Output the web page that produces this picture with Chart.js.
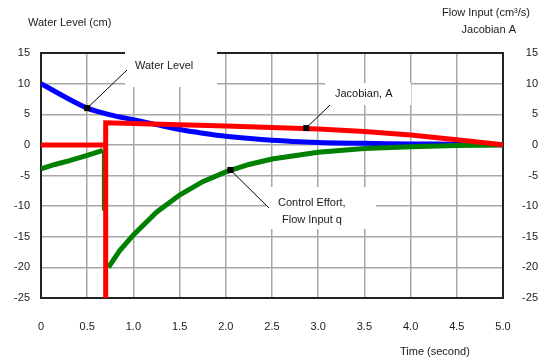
<!DOCTYPE html>
<html>
<head>
<meta charset="utf-8">
<script src="https://cdn.jsdelivr.net/npm/chart.js@4/dist/chart.umd.min.js"></script>
<style>
  html, body { margin: 0; padding: 0; background: #fff; }
  #wrap { width: 544px; height: 361px; }
</style>
</head>
<body>
<div id="wrap"><canvas id="grafica" width="544" height="361"></canvas></div>
<script>
// values
const levelTime  = [0, 0.25, 0.5, 0.75, 1.0, 1.25, 1.5, 1.75, 2.0, 2.5, 3.0, 3.5, 4.0, 4.5, 5.0];
const waterLevel = [10, 7.9, 6.0, 4.9, 4.1, 3.3, 2.5, 1.9, 1.4, 0.75, 0.4, 0.25, 0.15, 0.1, 0];

const jacobTime  = [0, 0.7, 0.7, 0.7, 1.0, 1.5, 2.0, 2.5, 3.0, 3.5, 4.0, 4.5, 5.0];
const jacobianA  = [0, 0, -25, 3.6, 3.5, 3.3, 3.1, 2.85, 2.6, 2.2, 1.6, 0.85, 0];

const flowTime   = [0, 0.15, 0.3, 0.5, 0.67, 0.67, 0.7, 0.73, 0.85, 1.0, 1.25, 1.5, 1.75, 2.0, 2.25, 2.5, 3.0, 3.5, 4.0, 4.5, 5.0];
const flowInput  = [-3.9, -3.2, -2.6, -1.7, -0.9, -10.7, null, -20, -17.3, -14.7, -11, -8.2, -6, -4.4, -3.2, -2.3, -1.2, -0.6, -0.3, -0.1, 0];

const xTicks = [0, 0.5, 1.0, 1.5, 2.0, 2.5, 3.0, 3.5, 4.0, 4.5, 5.0];
const yTicks = [-25, -20, -15, -10, -5, 0, 5, 10, 15];

function pares(xs, ys) {
    return xs.map((x, i) => ({ x: x, y: ys[i] }));
}

const fuente = '11px "Liberation Sans", Arial, sans-serif';
const colTexto = '#1a1a1a';

// frame, white label boxes, leader lines, texts
const anotaciones = {
    id: 'anotaciones',
    beforeDatasetsDraw(chart) {
        const ctx = chart.ctx;
        const a = chart.chartArea;
        ctx.save();
        ctx.strokeStyle = '#222';
        ctx.lineWidth = 2;
        ctx.strokeRect(a.left, a.top, a.right - a.left, a.bottom - a.top);
        ctx.fillStyle = '#fff';
        ctx.fillRect(125, 46, 92, 41);
        ctx.fillRect(325, 83, 86, 22);
        ctx.fillRect(266, 187, 110, 42);
        ctx.restore();
    },
    afterDatasetsDraw(chart) {
        const ctx = chart.ctx;
        const x = chart.scales.x;
        const y = chart.scales.y;
        ctx.save();
        ctx.strokeStyle = '#000';
        ctx.fillStyle = '#000';
        ctx.lineWidth = 1;
        const flechas = [
            [0.5, 6.0, 127, 70],
            [2.87, 2.75, 330, 105],
            [2.05, -4.1, 269, 208]
        ];
        flechas.forEach(f => {
            const px = x.getPixelForValue(f[0]);
            const py = y.getPixelForValue(f[1]);
            ctx.beginPath();
            ctx.moveTo(px, py);
            ctx.lineTo(f[2], f[3]);
            ctx.stroke();
            ctx.fillRect(px - 3, py - 3, 6, 6);
        });

        ctx.font = fuente;
        ctx.fillStyle = colTexto;
        ctx.textBaseline = 'middle';
        ctx.textAlign = 'left';
        ctx.fillText('Water Level', 135, 66);
        ctx.fillText('Jacobian, A', 335, 94);
        ctx.fillText('Control Effort,', 278, 203);
        ctx.fillText('Flow Input q', 282, 220);
        ctx.fillText('Water Level (cm)', 28, 23);
        ctx.fillText('Time (second)', 400, 352);
        ctx.textAlign = 'right';
        ctx.fillText('Flow Input (cm\u00B3/s)', 530, 13);
        ctx.fillText('Jacobian A', 516, 30);
        ctx.restore();
    }
};

const ejeY = {
    min: -25,
    max: 15,
    afterBuildTicks: s => { s.ticks = yTicks.map(v => ({ value: v })); },
    border: { display: false },
    ticks: { color: colTexto, font: { family: '"Liberation Sans", Arial, sans-serif', size: 11 } }
};

new Chart(document.getElementById('grafica').getContext('2d'), {
    type: 'line',
    data: {
        datasets: [{
            label: 'Jacobian, A',
            data: pares(jacobTime, jacobianA),
            borderColor: '#ff0000',
            borderWidth: 5,
            pointRadius: 0,
            tension: 0
        }, {
            label: 'Control Effort, Flow Input q',
            data: pares(flowTime, flowInput),
            borderColor: '#008000',
            borderWidth: 5,
            pointRadius: 0,
            tension: 0,
            spanGaps: false,
            segment: {
                borderWidth: c => (c.p0.parsed.x === c.p1.parsed.x ? 2 : 5)
            }
        }, {
            label: 'Water Level',
            data: pares(levelTime, waterLevel),
            borderColor: '#0000ff',
            borderWidth: 5,
            pointRadius: 0,
            tension: 0.25
        }]
    },
    plugins: [anotaciones],
    options: {
        responsive: false,
        animation: false,
        layout: { padding: { top: 53, left: 0, right: 6, bottom: 0 } },
        plugins: {
            legend: { display: false },
            tooltip: { enabled: false }
        },
        scales: {
            x: {
                type: 'linear',
                min: 0,
                max: 5,
                afterBuildTicks: s => { s.ticks = xTicks.map(v => ({ value: v })); },
                afterFit: s => { s.height = 63; },
                border: { display: false },
                grid: { color: '#a8a8a8', lineWidth: 1.5, drawTicks: false },
                ticks: {
                    padding: 22,
                    color: colTexto,
                    font: { family: '"Liberation Sans", Arial, sans-serif', size: 11 },
                    maxRotation: 0,
                    callback: v => (v === 0 ? '0' : v.toFixed(1))
                }
            },
            y: Object.assign({}, ejeY, {
                position: 'left',
                afterFit: s => { s.width = 41; },
                grid: { color: '#a8a8a8', lineWidth: 1.5, drawTicks: false },
                ticks: Object.assign({}, ejeY.ticks, { padding: 11 })
            }),
            y2: Object.assign({}, ejeY, {
                position: 'right',
                afterFit: s => { s.width = 35; },
                grid: { display: false, drawTicks: false },
                ticks: Object.assign({}, ejeY.ticks, { crossAlign: 'far', padding: 0 })
            })
        }
    }
});
</script>
</body>
</html>
